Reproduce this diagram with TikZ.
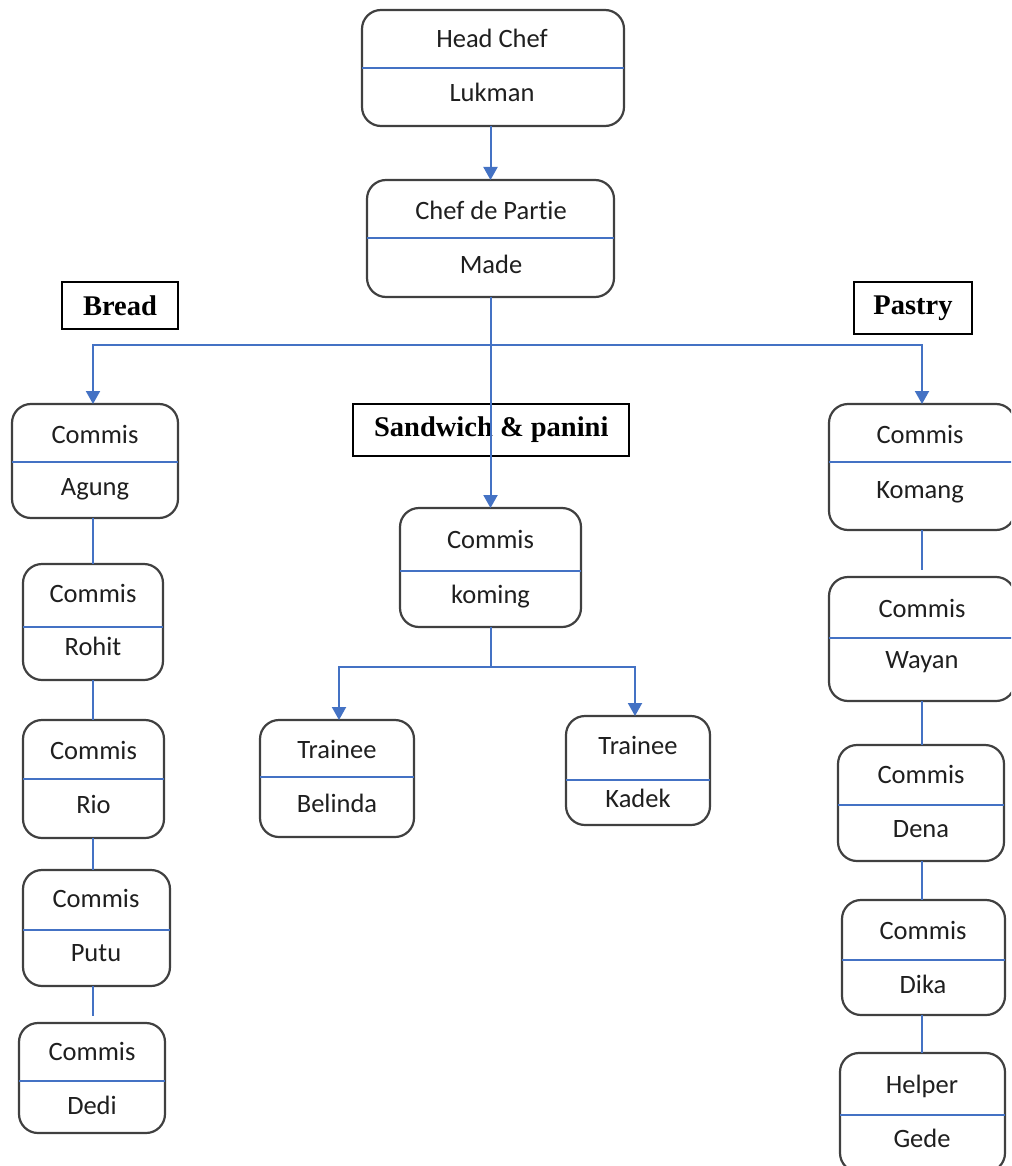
\documentclass[tikz,border=0pt]{standalone}
\usepackage{fontspec}
\setmainfont{Carlito}[RawFeature=-liga]
\newfontfamily\labelfont{Liberation Serif}
\usetikzlibrary{arrows.meta}
\definecolor{conn}{HTML}{4472C4}
\definecolor{boxline}{HTML}{404040}
\definecolor{txt}{HTML}{1F1F1F}
\tikzset{
  obox/.style={draw=boxline, line width=2.2pt, rounded corners=19pt, inner sep=0pt, outer sep=0pt},
  divline/.style={draw=conn, line width=2pt},
  otext/.style={anchor=base, text=txt, font=\fontsize{26.5}{30}\selectfont, inner sep=0pt},
  lbl/.style={draw=black, line width=1.8pt, inner sep=0pt, outer sep=0pt,
              font=\labelfont\bfseries\fontsize{28.5}{32}\selectfont},
  link/.style={draw=conn, line width=2pt},
  arr/.style={link, -{Triangle[width=14pt,length=13pt]}}
}
\newcommand{\obox}[6]{%
  \node[obox, minimum width={(#4-#2)*1pt}, minimum height={(#5-#3)*1pt}] (#1) at ({(#2+#4)/2},{(#3+#5)/2}) {};
  \draw[divline] (#2,#6) -- (#4,#6);
}
\begin{document}
\begin{tikzpicture}[x=1pt,y=-1pt]
\useasboundingbox (0,0) rectangle (1011,1166);
\clip (0,0) rectangle (1011,1166);
\fill[white] (0,0) rectangle (1011,1166);

% top
\obox{head}{362}{10}{624}{126}{68}
\node[otext] (head-t) at (492,48) {Head Chef};
\node[otext] (head-b) at (492,102) {Lukman};
\obox{chef}{367}{180}{614}{297}{238}
\node[otext] (chef-t) at (491,220) {Chef de Partie};
\node[otext] (chef-b) at (491,273) {Made};

% labels
\node[lbl, minimum width=116pt, minimum height=47pt] (bread) at (120,305.5) {Bread};
\node[lbl, minimum width=118pt, minimum height=52pt] (pastry) at (913,308) {Pastry};
\node[lbl, minimum width=276pt, minimum height=52pt] (sandwich) at (491.3,429.7) {Sandwich \& panini};

% left column
\obox{agung}{12}{404}{178}{518}{462}
\node[otext] (agung-t) at (95,443) {Commis};
\node[otext] (agung-b) at (95,495) {Agung};
\obox{rohit}{23}{564}{163}{680}{627}
\node[otext] (rohit-t) at (93,602) {Commis};
\node[otext] (rohit-b) at (93,655) {Rohit};
\obox{rio}{23}{720}{164}{838}{779}
\node[otext] (rio-t) at (93.5,759) {Commis};
\node[otext] (rio-b) at (93.5,813) {Rio};
\obox{putu}{23}{870}{170}{986}{930}
\node[otext] (putu-t) at (96,907) {Commis};
\node[otext] (putu-b) at (96,961) {Putu};
\obox{dedi}{19}{1023}{165}{1133}{1081}
\node[otext] (dedi-t) at (92,1060) {Commis};
\node[otext] (dedi-b) at (92,1114) {Dedi};

% middle
\obox{koming}{400}{508}{581}{627}{571}
\node[otext] (koming-t) at (490.5,548) {Commis};
\node[otext] (koming-b) at (490.5,603) {koming};
\obox{belinda}{260}{720}{414}{837}{777}
\node[otext] (belinda-t) at (337,758) {Trainee};
\node[otext] (belinda-b) at (337,812) {Belinda};
\obox{kadek}{566}{716}{710}{825}{780}
\node[otext] (kadek-t) at (638,754) {Trainee};
\node[otext] (kadek-b) at (638,807) {Kadek};

% right column
\obox{komang}{829}{404}{1015}{530}{462}
\node[otext] (komang-t) at (920,443) {Commis};
\node[otext] (komang-b) at (920,498) {Komang};
\obox{wayan}{829}{577}{1015}{701}{638}
\node[otext] (wayan-t) at (922,617) {Commis};
\node[otext] (wayan-b) at (922,668) {Wayan};
\obox{dena}{838}{745}{1004}{861}{805}
\node[otext] (dena-t) at (921,783) {Commis};
\node[otext] (dena-b) at (921,837) {Dena};
\obox{dika}{842}{900}{1005}{1015}{960}
\node[otext] (dika-t) at (923,939) {Commis};
\node[otext] (dika-b) at (923,993) {Dika};
\obox{gede}{840}{1053}{1005}{1172}{1115}
\node[otext] (gede-t) at (922,1093) {Helper};
\node[otext] (gede-b) at (922,1147) {Gede};

% connectors
\draw[arr] (head.south -| chef.north) -- (chef.north);
\draw[arr] (chef.south) -- (koming.north);
\coordinate (bj) at (491,345);
\draw[arr] (bj) -| (agung.north -| 93,0);
\draw[arr] (bj) -| (komang.north -| 922,0);
\coordinate (kj) at (491,667);
\draw[link] (kj |- koming.south) -- (kj);
\draw[arr] (kj) -| (belinda.north -| 339,0);
\draw[arr] (kj) -| (kadek.north -| 635,0);

\draw[link] (agung.south -| 93,0) -- (rohit.north -| 93,0);
\draw[link] (rohit.south -| 93,0) -- (rio.north -| 93,0);
\draw[link] (rio.south -| 93,0) -- (putu.north -| 93,0);
\draw[link, shorten >=7pt] (putu.south -| 93,0) -- (dedi.north -| 93,0);

\draw[link, shorten >=7pt] (komang.south -| 922,0) -- (wayan.north -| 922,0);
\draw[link] (wayan.south -| 922,0) -- (dena.north -| 922,0);
\draw[link] (dena.south -| 922,0) -- (dika.north -| 922,0);
\draw[link] (dika.south -| 922,0) -- (gede.north -| 922,0);
\end{tikzpicture}
\end{document}
